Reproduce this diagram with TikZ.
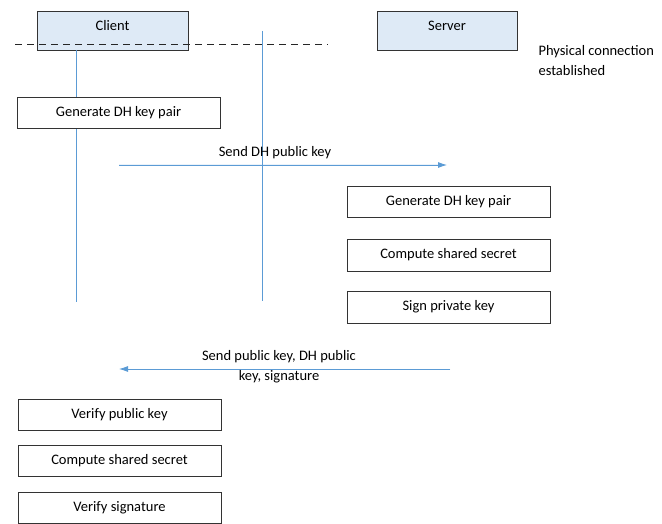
\documentclass[tikz,border=0pt]{standalone}
\usepackage{fontspec}
\setmainfont{Carlito}
\usetikzlibrary{arrows.meta}
\definecolor{lifeblue}{HTML}{5B9BD5}
\definecolor{headfill}{HTML}{DEEAF6}
\begin{document}
\begin{tikzpicture}[>={Latex[length=9pt,width=6pt]},x=1pt,y=-1pt,
		font=\fontsize{14.5}{20}\selectfont,
		stepbox/.style={draw=black!80,line width=.8pt,minimum width=203pt,minimum height=31pt,inner sep=0pt},
		headbox/.style={stepbox,fill=headfill,minimum height=39pt,text height=10pt,text depth=9pt},
		msg/.style={->,draw=lifeblue,fill=lifeblue,line width=.8pt}]
	\useasboundingbox (0,0) rectangle (662,524);
	% heads
	\node[headbox,minimum width=151pt] (client) at (112.5,30.5) {Client};
	\node[headbox,minimum width=140pt] (server) at (447,30.5) {Server};
	\coordinate (dashL) at (15,44);
	\coordinate (dashR) at (328,44);
	\draw[black!85,line width=.8pt,dash pattern=on 7pt off 5pt] (dashL) -- (dashR);
	\node[anchor=west,align=left] (phys) at (535,61) {Physical connection\\established};
	% lifelines
	\coordinate (cliTop) at (76,50);
	\coordinate (cliBot) at (76,302);
	\coordinate (midTop) at (262,31);
	\coordinate (midBot) at (262,301);
	\draw[lifeblue,line width=1pt] (cliTop) -- (cliBot);
	\draw[lifeblue,line width=.8pt] (midTop) -- (midBot);
	% client steps
	\node[stepbox,fill=white] (cgen) at (118.5,113) {Generate DH key pair};
	% first message
	\coordinate (m1a) at (119,165);
	\coordinate (m1b) at (447,165);
	\draw[msg] (m1a) -- (m1b);
	\node (m1) at (275,153) {Send DH public key};
	% server steps
	\node[stepbox] (sgen) at (448.5,202) {Generate DH key pair};
	\node[stepbox,minimum height=32pt] (ssec) at (448.5,255) {Compute shared secret};
	\node[stepbox,minimum height=32pt] (ssign) at (448.5,307) {Sign private key};
	% second message
	\coordinate (m2a) at (450,369);
	\coordinate (m2b) at (119,369);
	\draw[msg] (m2a) -- (m2b);
	\node[align=center] (m2) at (279,367) {Send public key, DH public\\key, signature};
	% client checks
	\node[stepbox] (cver) at (119.5,415) {Verify public key};
	\node[stepbox] (csec) at (119.5,461) {Compute shared secret};
	\node[stepbox] (csig) at (119.5,507.5) {Verify signature};
\end{tikzpicture}
\end{document}
